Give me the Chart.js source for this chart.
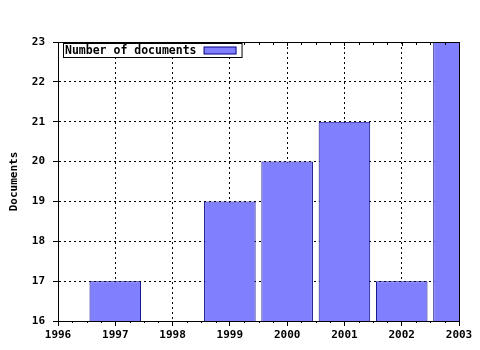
<!DOCTYPE html>
<html>
<head>
<meta charset="utf-8">
<script src="https://cdn.jsdelivr.net/npm/chart.js@4/dist/chart.umd.min.js"></script>
<style>
  html, body { margin: 0; padding: 0; background: #fff; }
  #wrap { width: 480px; height: 350px; }
</style>
</head>
<body>
<div id="wrap"><canvas id="myChart" width="480" height="350"></canvas></div>
<script>
// data
var years = [1997, 1999, 2000, 2001, 2002, 2003];
var docs = [17, 19, 20, 21, 17, 23];
var seriesLabel = 'Number of documents';
var yTitle = 'Documents';

var FONT = '"DejaVu Sans Mono", monospace';
var fill = '#8080ff';
var edge = '#000080';

var points = [];
for (var i = 0; i < years.length; i++) {
  points.push({ x: years[i], y: docs[i] });
}

// top/right frame, minor ticks and the boxed legend
var frame = {
  id: 'frame',
  afterDatasetsDraw: function (chart) {
    var ctx = chart.ctx;
    var a = chart.chartArea;
    var xs = chart.scales.x;
    ctx.save();
    ctx.strokeStyle = '#000';
    ctx.lineWidth = 1;
    ctx.beginPath();
    ctx.moveTo(a.left, a.top + 0.5);
    ctx.lineTo(a.right + 1, a.top + 0.5);
    ctx.moveTo(Math.round(a.right) + 0.5, a.top);
    ctx.lineTo(Math.round(a.right) + 0.5, a.bottom);
    // minor ticks every quarter year
    for (var v = xs.min; v <= xs.max; v += 0.25) {
      var px = Math.round(xs.getPixelForValue(v)) + 0.5;
      var major = Math.abs(v - Math.round(v)) < 1e-6;
      ctx.moveTo(px, a.top);
      ctx.lineTo(px, a.top + (major ? 4 : 3));
      if (!major) {
        ctx.moveTo(px, a.bottom);
        ctx.lineTo(px, a.bottom + 2);
      }
    }
    ctx.stroke();

    // legend box
    var ds = chart.data.datasets[0];
    ctx.font = 'bold 11.5px ' + FONT;
    var tw = ctx.measureText(ds.label).width;
    var bx = a.left + 5.5, by = a.top + 1.5;
    var bw = tw + 47, bh = 14;
    ctx.fillStyle = '#fff';
    ctx.fillRect(bx, by, bw, bh);
    ctx.strokeRect(bx, by, bw, bh);
    ctx.fillStyle = '#000';
    ctx.textBaseline = 'middle';
    ctx.fillText(ds.label, bx + 1.5, by + bh / 2 + 1);
    ctx.fillStyle = ds.backgroundColor;
    ctx.fillRect(bx + tw + 9, by + 3.5, 32, 7);
    ctx.strokeStyle = ds.borderColor;
    ctx.strokeRect(bx + tw + 9, by + 3.5, 32, 7);
    ctx.restore();
  }
};

var ctx = document.getElementById('myChart').getContext('2d');
var chart = new Chart(ctx, {
  type: 'bar',
  data: {
    datasets: [{
      label: seriesLabel,
      data: points,
      backgroundColor: fill,
      borderColor: edge,
      borderWidth: 1,
      borderSkipped: 'start',
      inflateAmount: 0,
      barPercentage: 0.9,
      categoryPercentage: 1,
      clip: 0
    }]
  },
  options: {
    responsive: false,
    animation: false,
    layout: { padding: { top: 42, right: 21, left: 0, bottom: 0 } },
    plugins: {
      legend: { display: false },
      tooltip: { enabled: false }
    },
    scales: {
      x: {
        type: 'linear',
        min: 1996,
        max: 2003,
        offset: false,
        afterFit: function (s) { s.height = 29; },
        ticks: {
          stepSize: 1,
          color: '#000',
          padding: 3,
          maxRotation: 0,
          font: { family: FONT, size: 11, weight: 'bold' },
          callback: function (v) { return String(v); }
        },
        grid: { offset: false, color: '#000', tickLength: 5, tickColor: '#000' },
        border: { color: '#000', width: 1, dash: [2, 3] }
      },
      y: {
        min: 16,
        max: 23,
        afterFit: function (s) { s.width = 58; },
        ticks: {
          stepSize: 1,
          color: '#000',
          padding: 8,
          font: { family: FONT, size: 11, weight: 'bold' }
        },
        grid: { color: '#000', tickLength: 5, tickColor: '#000' },
        border: { color: '#000', width: 1, dash: [2, 3] },
        title: {
          display: true,
          text: yTitle,
          color: '#000',
          padding: { top: 8, bottom: 0 },
          font: { family: FONT, size: 11, weight: 'bold' }
        }
      }
    }
  },
  plugins: [frame]
});
</script>
</body>
</html>
